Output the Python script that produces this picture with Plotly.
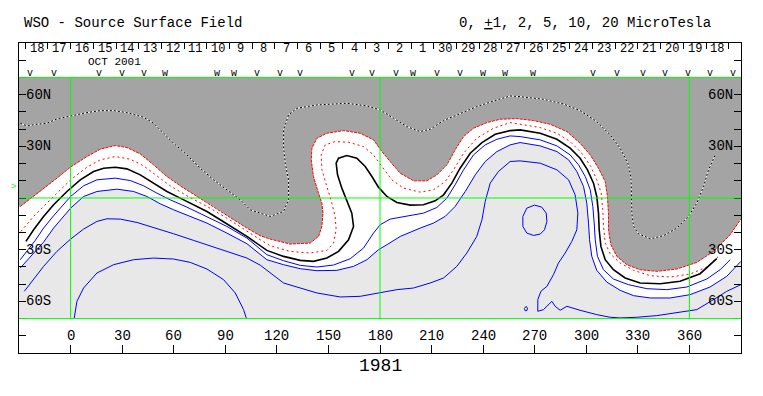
import plotly.graph_objects as go

# ---------------- data ----------------
LON_TICKS = list(range(0, 361, 30))
LON_TICK_LABELS = [str(v) for v in LON_TICKS]
LAT_TICKS = list(range(-80, 81, 10))
LAT_LABEL_VALS = [60, 30, -30, -60]
LAT_LABEL_TEXT = ["60N", "30N", "30S", "60S"]
DAY_LABELS = ["18", "17", "16", "15", "14", "13", "12", "11", "10", "9", "8", "7", "6", "5", "4",
              "3", "2", "1", "30", "29", "28", "27", "26", "25", "24", "23", "22", "21", "20", "19", "18"]
MARK_LON = [-23.4, -9.9, 16.3, 29.9, 42.5, 55.1, 85.2, 94.8, 108.4, 122.0, 133.6, 163.7, 175.3,
            189.4, 199.3, 213.3, 226.6, 240.0, 252.8, 269.1, 304.0, 317.9, 333.1, 345.9, 359.3, 372.1, 385.4]
MARK_TEXT = ["v", "v", "v", "v", "v", "w", "w", "w", "v", "v", "v", "v", "v",
             "v", "w", "v", "v", "w", "w", "w", "v", "v", "v", "v", "v", "v", "v"]
ROTATION = "1981"
MONTH = "OCT 2001"

# contour  -5 (dotted black/white)
NEG5_LON = [-29.26, -25.38, -19.56, -13.75, -7.93, -0.18, 9.52, 17.27, 25.03, 32.78, 42.47, 48.29, 54.11,
            59.92, 67.68, 75.43, 83.19, 90.94, 98.70, 104.5, 116.14, 123.9, 126.8, 126.8, 124.87, 123.9,
            123.9, 126.8, 131.65, 143.3, 160.7, 172.4, 180.1, 187.9, 195.6, 203.4, 209.2, 216.96, 226.6,
            236.3, 247.97, 255.7, 261.5, 275.1, 286.7, 296.4, 306.1, 313.9, 319.7, 324.6, 326.1, 326.1,
            326.5, 327.5, 330.4, 337.2, 344.9, 352.7, 359.4, 364.3, 368.2, 371.1, 375.0]
NEG5_LAT = [43.4, 41.85, 42.82, 43.4, 45.91, 47.65, 49.58, 50.74, 50.74, 49.58, 46.88, 43.4, 37.6,
            31.8, 25.04, 17.31, 10.55, 4.75, -1.05, -6.84, -10.71, -7.81, -1.05, 10.55, 20.21, 29.87,
            39.53, 48.23, 52.1, 54.03, 55.0, 53.45, 51.13, 46.3, 41.47, 38.57, 39.92, 44.95, 49.2,
            53.06, 56.93, 59.24, 58.86, 57.31, 54.6, 50.74, 44.37, 36.64, 28.91, 19.24, 10.55, 0.89,
            -8.78, -16.51, -20.76, -23.66, -21.92, -17.47, -10.71, -2.98, 6.68, 16.34, 25.04]

# contour -2 (red, edge of dark shading)
NEG2_LON = [-29.26, -17.63, -7.93, 0.02, 9.52, 17.27, 25.99, 32.78, 40.54, 48.29, 56.05, 63.8, 73.5,
            83.19, 94.82, 102.58, 110.33, 116.14, 127.77, 139.4, 144.25, 146.2, 146.8, 146.2, 144.25,
            141.3, 140.0, 140.4, 143.3, 149.1, 158.8, 168.5, 176.3, 180.1, 185.9, 191.8, 199.5, 207.3,
            213.1, 218.9, 223.7, 228.6, 234.4, 242.2, 249.9, 259.6, 269.3, 279.0, 288.7, 296.4, 302.3,
            307.1, 311.0, 312.3, 312.9, 312.9, 314.3, 317.8, 323.6, 331.3, 341.0, 352.7, 364.3, 374.0,
            383.7, 389.9]
NEG2_LAT = [-4.91, 3.78, 11.52, 18.0, 24.07, 28.33, 30.45, 29.29, 25.62, 19.24, 12.48, 7.07, 0.89,
            -4.91, -12.64, -17.47, -21.92, -23.85, -26.75, -26.17, -22.3, -16.51, -8.78, -2.98, 2.82,
            12.48, 22.14, 28.91, 34.7, 37.6, 39.15, 37.6, 33.74, 28.33, 21.18, 14.41, 9.97, 9.97,
            13.45, 19.24, 27.94, 35.67, 40.5, 43.79, 45.72, 46.1, 44.95, 42.82, 38.57, 31.8, 25.04,
            17.31, 9.58, 0.89, -8.78, -18.44, -27.13, -33.9, -38.73, -41.63, -42.59, -41.24, -37.38, -31.0,
            -21.34, -12.26]

# contour -1 (red dotted)
NEG1_LON = [-28.87, -21.5, -11.8, 0.02, 9.52, 17.27, 25.99, 34.72, 42.47, 50.23, 57.98, 67.68, 79.31,
            90.94, 102.58, 110.33, 116.14, 127.77, 139.4, 149.1, 153.0, 154.5, 153.9, 152.0, 149.1, 146.2,
            145.8, 148.1, 153.9, 161.7, 170.4, 176.2, 181.1, 186.9, 193.7, 203.4, 211.1, 217.9, 222.8,
            228.6, 236.3, 246.0, 255.7, 261.5, 273.2, 282.9, 290.6, 297.4, 302.6, 306.1, 308.7, 309.6,
            310.0, 311.0, 313.9, 319.7, 327.5, 337.2, 348.8, 360.4, 370.1, 377.9]
NEG1_LAT = [-19.4, -10.71, -1.05, 10.55, 17.89, 22.14, 24.07, 22.53, 18.66, 12.87, 7.07, 1.27, -4.91,
            -11.68, -19.4, -24.24, -27.71, -31.0, -31.96, -30.42, -26.17, -18.44, -10.71, -2.98, 6.68,
            16.35, 25.04, 30.84, 32.77, 32.39, 29.87, 25.04, 18.28, 10.55, 5.72, 3.4, 4.75, 9.58, 16.35,
            26.01, 34.7, 40.5, 43.79, 42.82, 40.89, 37.6, 32.77, 26.01, 18.28, 10.55, 2.82, -6.84,
            -16.51, -26.17, -32.35, -37.77, -42.01, -45.1, -45.88, -44.14, -40.08, -32.93]

# neutral line 0 (black)
ZERO_LON = [-25.96, -21.5, -15.69, -9.87, -2.11, 5.64, 13.39, 19.21, 25.99, 32.78, 40.54, 48.29, 56.05,
            63.8, 71.56, 79.31, 87.07, 94.82, 102.58, 114.2, 123.9, 133.6, 141.3, 149.1, 155.9, 161.7,
            164.6, 163.6, 160.7, 157.8, 155.3, 154.5, 155.9, 160.7, 166.5, 171.4, 175.3, 179.1, 184.0,
            189.8, 197.6, 205.3, 212.1, 217.0, 221.8, 226.6, 232.5, 239.3, 247.0, 255.7, 261.5, 273.2,
            282.9, 290.6, 296.4, 300.7, 304.2, 306.1, 307.1, 307.5, 308.5, 311.0, 315.8, 322.6, 331.3,
            343.0, 354.6, 366.2, 375.9]
ZERO_LAT = [-25.2, -18.44, -10.71, -3.95, 3.78, 10.55, 15.38, 17.31, 17.89, 16.93, 13.45, 8.62, 3.78,
            -0.08, -3.95, -7.81, -12.64, -17.47, -22.3, -30.42, -33.9, -36.22, -36.8, -34.87, -31.0,
            -24.24, -16.51, -8.78, -2.01, 5.72, 13.45, 20.21, 23.11, 24.65, 23.11, 18.28, 12.48, 6.3,
            0.89, -2.59, -4.14, -3.95, -1.63, 1.85, 8.62, 17.31, 26.01, 32.19, 37.02, 39.15, 39.53,
            37.6, 34.12, 28.91, 23.11, 16.35, 8.62, 0.89, -8.78, -18.44, -28.1, -35.83, -41.63, -46.46,
            -49.36, -49.75, -48.39, -43.95, -35.25]

# contour +1 (blue)
POS1_LON = [-29.26, -20.53, -15.69, -9.87, 0.02, 7.58, 15.33, 25.99, 34.72, 42.47, 50.23, 57.98, 67.68,
            79.31, 90.94, 102.58, 114.2, 123.9, 133.6, 143.3, 153.0, 162.7, 170.4, 176.2, 180.1, 185.9,
            195.6, 205.3, 213.1, 218.9, 223.7, 228.6, 234.4, 241.2, 248.0, 255.7, 261.5, 273.2, 282.9,
            290.6, 295.5, 299.4, 302.3, 303.8, 304.6, 305.2, 306.5, 310.0, 315.8, 324.5, 335.2, 346.8,
            358.5, 370.1, 377.9, 383.7]
POS1_LAT = [-35.83, -24.62, -17.47, -10.32, 0.89, 7.07, 10.55, 11.52, 10.16, 7.07, 2.82, -1.05, -5.3,
            -10.71, -16.51, -23.27, -32.93, -36.41, -39.11, -40.08, -38.92, -35.25, -29.07, -20.37,
            -15.54, -12.26, -10.32, -8.78, -5.49, -0.08, 7.65, 16.35, 25.04, 30.84, 34.12, 36.06, 35.67,
            33.74, 30.26, 25.04, 19.24, 12.48, 4.75, -4.91, -14.57, -24.24, -33.9, -41.63, -47.04,
            -50.33, -52.64, -53.22, -51.68, -47.04, -41.63, -35.83]

# contour +2 (blue, edge of light shading)
POS2_LON = [-29.26, -15.69, -9.87, 0.02, 7.58, 15.33, 26.96, 36.66, 44.41, 52.17, 59.92, 69.62, 79.31,
            90.94, 102.58, 114.2, 123.9, 133.6, 143.3, 154.9, 164.6, 172.4, 179.1, 184.0, 191.8, 203.4,
            211.1, 217.9, 223.7, 229.6, 235.4, 241.2, 248.0, 255.7, 261.5, 273.2, 282.9, 289.7, 294.5,
            298.4, 300.3, 301.3, 301.9, 303.2, 306.1, 311.9, 319.7, 327.5, 337.2, 348.8, 360.4, 372.0,
            381.7, 389.9]
POS2_LAT = [-40.66, -25.59, -17.47, -5.88, 0.89, 3.78, 5.14, 3.78, 0.89, -3.37, -6.84, -10.71, -14.57,
            -20.37, -26.55, -35.83, -38.73, -41.05, -42.21, -42.01, -39.7, -35.83, -30.03, -27.13,
            -22.3, -17.47, -14.57, -10.71, -4.91, 3.78, 13.45, 21.18, 26.97, 30.84, 32.19, 30.26, 26.97,
            22.14, 15.38, 6.68, -2.98, -14.57, -24.24, -33.9, -42.01, -48.78, -53.61, -56.7, -58.05,
            -58.05, -56.12, -51.68, -45.49, -36.8]

# contour +5 (blue)
POS5_LON = [-26.93, -21.5, -15.69, -7.93, 0.02, 7.58, 15.33, 21.15, 28.9, 38.6, 48.29, 59.92, 71.56,
            83.19, 94.82, 102.58, 110.33, 123.9, 143.3, 156.9, 168.5, 180.1, 189.8, 199.5, 209.2, 217.0,
            224.7, 230.5, 236.3, 239.3, 241.2, 244.1, 248.9, 255.7, 261.5, 273.2, 282.9, 289.7, 293.5,
            295.1, 294.5, 291.6, 287.7, 283.8, 280.9, 277.1, 273.6, 271.8, 271.8, 275.1, 280.0, 281.9,
            284.8, 288.7, 291.6, 296.4, 306.1, 313.9, 319.7, 329.4, 341.0, 352.7, 364.3, 374.0, 381.7,
            389.9]
POS5_LAT = [-54.19, -47.42, -39.7, -30.99, -23.85, -18.05, -13.61, -12.06, -12.26, -14.19, -17.08,
            -20.76, -24.62, -28.49, -32.35, -34.87, -39.0, -49.36, -55.15, -57.47, -57.09, -55.15,
            -53.22, -52.26, -49.36, -46.46, -39.7, -31.97, -22.3, -12.64, -2.01, 8.62, 15.38, 21.18,
            21.56, 20.21, 16.35, 10.55, 1.85, -8.78, -18.44, -25.2, -31.97, -37.77, -44.53, -51.29,
            -54.19, -59.02, -65.78, -64.82, -59.98, -62.88, -65.2, -62.88, -63.85, -65.2, -67.71,
            -69.26, -69.65, -69.26, -68.29, -66.36, -64.82, -59.02, -54.19, -50.33]

# contour +10 (blue) : dome and closed loops
POS10A_LON = [2.15, 3.7, 7.58, 15.33, 25.03, 36.66, 48.29, 59.92, 69.62, 79.31, 89.0, 95.79, 100.64, 102.2]
POS10A_LAT = [-69.65, -59.98, -52.25, -43.56, -38.73, -35.83, -34.87, -35.44, -37.38, -41.24, -47.42,
              -55.15, -64.82, -69.65]
POS10B_LON = [269.9, 274.1, 276.7, 277.1, 275.7, 273.2, 269.3, 265.4, 263.1, 263.1, 265.4, 269.9]
POS10B_LAT = [-4.14, -5.3, -8.78, -13.61, -18.44, -20.95, -21.72, -20.37, -16.51, -10.71, -5.88, -4.14]
POS10C_LON = [265.0, 265.8, 265.5, 264.5, 264.0, 265.0]
POS10C_LAT = [-62.9, -64.0, -65.3, -65.5, -64.2, -62.9]

# ---------------- layout constants ----------------
XMIN, XMAX = -30, 390
YMIN, YMAX = -90, 90
EDGE = 70
DAY0_LON, DEG_PER_DAY = -26.35, 13.2
MONO = "Liberation Mono, Courier New, monospace"
DARK = "#A4A4A4"
LIGHT = "#E8E8E8"
GREEN = "#00FF00"

fig = go.Figure()

# shading
fig.add_trace(go.Scatter(
    x=[XMIN] + POS2_LON + [XMAX, XMAX, XMIN],
    y=[POS2_LAT[0]] + POS2_LAT + [POS2_LAT[-1], -EDGE, -EDGE],
    fill="toself", fillcolor=LIGHT, mode="none", hoverinfo="skip", showlegend=False))
fig.add_trace(go.Scatter(
    x=[XMIN] + NEG2_LON + [XMAX, XMAX, XMIN],
    y=[NEG2_LAT[0]] + NEG2_LAT + [NEG2_LAT[-1], EDGE, EDGE],
    fill="toself", fillcolor=DARK, mode="none", hoverinfo="skip", showlegend=False))


def line(xs, ys, color, width=1.0, dash="solid"):
    fig.add_trace(go.Scatter(x=xs, y=ys, mode="lines", hoverinfo="skip", showlegend=False,
                             line=dict(color=color, width=width, dash=dash)))


line(NEG5_LON, NEG5_LAT, "white", 1)
line(NEG5_LON, NEG5_LAT, "black", 1, "2px,2px")
line(NEG2_LON, NEG2_LAT, "#FF0000", 1, "3px,1px")
line(NEG1_LON, NEG1_LAT, "#FF0000", 1, "2px,3px")
line(ZERO_LON, ZERO_LAT, "black", 1.6)
line(POS1_LON, POS1_LAT, "#0000FF", 1)
line(POS2_LON, POS2_LAT, "#0000FF", 1)
line(POS5_LON, POS5_LAT, "#0000FF", 1)
line(POS10A_LON, POS10A_LAT, "#0000FF", 1)
line(POS10B_LON, POS10B_LAT, "#0000FF", 1)
line(POS10C_LON, POS10C_LAT, "#0000FF", 1)

# dummy traces to activate right / top axes
fig.add_trace(go.Scatter(x=[XMIN], y=[0], yaxis="y2", mode="markers", marker=dict(opacity=0),
                         hoverinfo="skip", showlegend=False))
fig.add_trace(go.Scatter(x=[XMIN], y=[0], xaxis="x2", mode="markers", marker=dict(opacity=0),
                         hoverinfo="skip", showlegend=False))

# green reference lines
shapes = []
for yv in (EDGE, 0, -EDGE):
    shapes.append(dict(type="line", xref="x", yref="y", x0=XMIN, x1=XMAX, y0=yv, y1=yv,
                       line=dict(color=GREEN, width=1), layer="above"))
for xv in (0, 180, 360):
    shapes.append(dict(type="line", xref="x", yref="y", x0=xv, x1=xv, y0=-EDGE, y1=EDGE,
                       line=dict(color=GREEN, width=1), layer="above"))

ann = []
for v, t in zip(LON_TICKS, LON_TICK_LABELS):
    ann.append(dict(x=v, y=-80, xref="x", yref="y", text=t, showarrow=False,
                    font=dict(family=MONO, size=14, color="black"), xanchor="center", yanchor="middle"))
for v, t in zip(LAT_LABEL_VALS, LAT_LABEL_TEXT):
    ann.append(dict(x=XMIN, y=v, xref="x", yref="y", text=t, showarrow=False, xshift=5,
                    font=dict(family=MONO, size=14, color="black"), xanchor="left", yanchor="middle"))
    ann.append(dict(x=XMAX, y=v, xref="x", yref="y", text=t, showarrow=False, xshift=-6,
                    font=dict(family=MONO, size=14, color="black"), xanchor="right", yanchor="middle"))
for k, t in enumerate(DAY_LABELS):
    ann.append(dict(x=DAY0_LON + DEG_PER_DAY * (k + 0.5), y=86.3, xref="x", yref="y", text=t,
                    showarrow=False, font=dict(family=MONO, size=12, color="black"),
                    xanchor="center", yanchor="middle"))
for v, t in zip(MARK_LON, MARK_TEXT):
    ann.append(dict(x=v, y=72.5, xref="x", yref="y", text=t, showarrow=False,
                    font=dict(family=MONO, size=10, color="black"), xanchor="center", yanchor="middle"))
ann.append(dict(x=25.4, y=79.0, xref="x", yref="y", text=MONTH, showarrow=False,
                font=dict(family=MONO, size=11, color="black"), xanchor="center", yanchor="middle"))
ann.append(dict(x=0.0069, y=1.0645, xref="paper", yref="paper", text="WSO - Source Surface Field",
                showarrow=False, xshift=-2, font=dict(family=MONO, size=14, color="black"),
                xanchor="left", yanchor="middle"))
ann.append(dict(x=0.9584, y=1.0645, xref="paper", yref="paper",
                text="0, <u>+</u>1, 2, 5, 10, 20 MicroTesla",
                showarrow=False, xshift=2, font=dict(family=MONO, size=14, color="black"),
                xanchor="right", yanchor="middle"))
ann.append(dict(x=180, y=-0.042, xref="x", yref="paper", text=ROTATION, showarrow=False,
                font=dict(family=MONO, size=18, color="black"), xanchor="center", yanchor="middle"))
ann.append(dict(x=0, y=6.5, xref="paper", yref="y", text=">", showarrow=False, xshift=-1,
                font=dict(family=MONO, size=9, color=GREEN), xanchor="right", yanchor="middle"))

day_ticks = [DAY0_LON + DEG_PER_DAY * k for k in range(len(DAY_LABELS) + 1)]

# the page body adds an 8px offset; margins compensate so the frame sits at (19,43)-(741,353)
fig.update_layout(
    width=763, height=396,
    margin=dict(l=11, r=30, t=35, b=51, pad=0, autoexpand=False),
    paper_bgcolor="white", plot_bgcolor="white",
    showlegend=False,
    xaxis=dict(range=[XMIN, XMAX], showgrid=False, zeroline=False, showline=True, mirror=True,
               linecolor="black", linewidth=1, ticks="inside", tickvals=LON_TICKS, ticklen=8,
               tickcolor="black", showticklabels=False, fixedrange=True),
    xaxis2=dict(range=[XMIN, XMAX], overlaying="x", side="top", showgrid=False, zeroline=False,
                showline=False, ticks="inside", tickvals=day_ticks, ticklen=6, tickcolor="black",
                showticklabels=False),
    yaxis=dict(range=[YMIN, YMAX], showgrid=False, zeroline=False, showline=True, mirror=True,
               linecolor="black", linewidth=1, ticks="inside", tickvals=LAT_TICKS, ticklen=7,
               tickcolor="black", showticklabels=False),
    yaxis2=dict(range=[YMIN, YMAX], overlaying="y", side="right", showgrid=False, zeroline=False,
                showline=False, ticks="inside", tickvals=LAT_TICKS, ticklen=7, tickcolor="black",
                showticklabels=False),
    shapes=shapes,
    annotations=ann,
)

fig.write_html("out.html")
